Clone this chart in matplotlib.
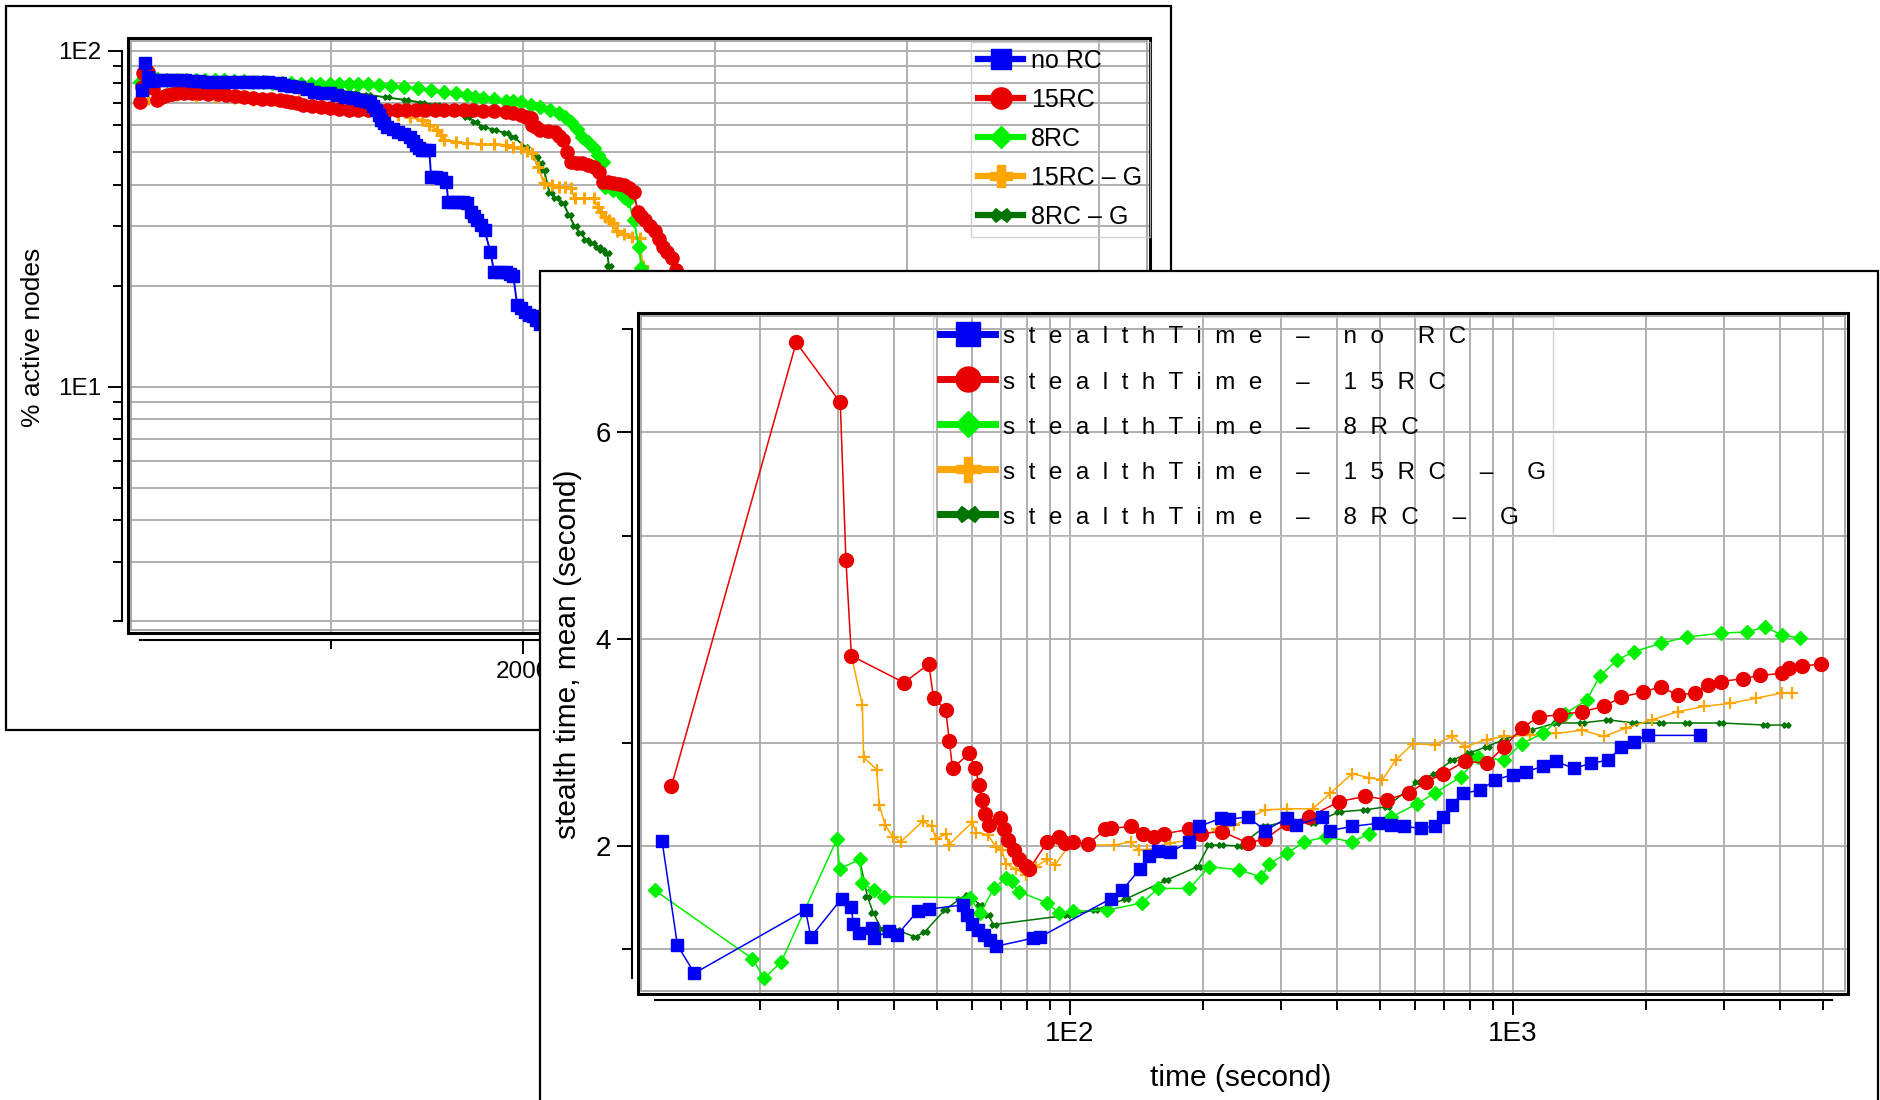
import matplotlib
matplotlib.use('Agg')
import matplotlib.pyplot as plt
from matplotlib.lines import Line2D
from matplotlib.patches import Rectangle
from matplotlib.path import Path
from matplotlib.ticker import NullFormatter

plt.rcParams['font.family'] = ['Liberation Sans', 'DejaVu Sans']

# ---------------- data: back panel (% active nodes vs time) ----------------
act_norc_t = [18, 34, 48, 67, 97, 130, 160, 197, 240, 280, 316, 356, 396, 436, 476, 516, 556, 595, 635,
              675, 735, 755, 795, 834, 874, 914, 954, 994, 1034, 1073, 1113, 1153, 1183, 1203, 1218, 1233,
              1248, 1263, 1278, 1292, 1322, 1352, 1382, 1412, 1427, 1442, 1457, 1472, 1492, 1512, 1522,
              1546, 1571, 1601, 1611, 1636, 1661, 1686, 1711, 1731, 1746, 1761, 1780, 1800, 1830, 1850,
              1880, 1910, 1930, 1950, 1970, 1990, 2010, 2030, 2050, 2070, 2089, 2120, 2149]
act_norc_v = [76.5, 91.9, 83.8, 81.5, 81.9, 81.9, 81.9, 81.9, 81.8, 81.6, 81.6, 81.0, 81.0, 81.0, 81.0,
              81.0, 81.0, 81.0, 80.8, 80.6, 80.5, 79.2, 78.8, 78.3, 77.0, 75.7, 75.2, 74.8, 74.0, 73.1,
              72.3, 71.4, 71.0, 70.6, 68.5, 66.7, 64.5, 62.3, 60.9, 59.5, 58.5, 57.5, 56.5, 55.6, 54.0,
              52.5, 51.5, 50.7, 50.7, 50.7, 42.2, 42.0, 41.7, 40.8, 35.6, 35.6, 35.6, 35.4, 35.2, 33.2,
              32.3, 31.4, 30.3, 29.3, 25.2, 22.0, 22.0, 22.0, 21.6, 21.3, 17.5, 17.1, 16.7, 16.4, 16.2,
              15.8, 15.4, 15.1, 14.8]

act_15rc_t = [8, 15, 22, 35, 48, 60, 74, 97, 122, 147, 172, 197, 237, 277, 316, 363, 410, 456, 503, 549,
              595, 642, 688, 735, 765, 795, 825, 854, 901, 947, 994, 1044, 1094, 1143, 1193, 1243, 1293,
              1342, 1392, 1442, 1492, 1541, 1591, 1641, 1691, 1740, 1790, 1850, 1910, 1950, 1990, 2015,
              2040, 2049, 2069, 2089, 2129, 2169, 2189, 2209, 2229, 2249, 2279, 2308, 2338, 2368, 2398,
              2418, 2443, 2468, 2498, 2528, 2553, 2577, 2597, 2617, 2637, 2662, 2687, 2707, 2727, 2752,
              2777, 2797, 2826]
act_15rc_v = [70.6, 78.0, 85.8, 87.0, 86.7, 82.0, 77.4, 71.4, 73.0, 74.0, 74.5, 74.8, 74.8, 74.8, 74.8,
              74.5, 74.2, 74.0, 73.5, 72.8, 72.3, 72.0, 71.7, 71.4, 71.0, 70.6, 69.8, 69.0, 68.4, 68.0,
              67.5, 67.2, 66.9, 66.7, 66.7, 66.7, 66.7, 66.7, 66.7, 66.7, 66.7, 66.7, 66.7, 66.6, 66.5,
              66.5, 66.4, 66.1, 65.9, 65.2, 64.4, 63.7, 63.0, 60.2, 59.2, 58.2, 57.8, 57.5, 55.9, 54.3,
              50.1, 46.8, 46.5, 46.3, 45.7, 45.2, 43.7, 40.8, 40.6, 40.4, 40.1, 39.9, 39.0, 38.1, 33.2,
              32.3, 31.4, 30.2, 29.0, 27.5, 26.1, 25.1, 24.1, 22.3, 20.3]

act_8rc_t = [8, 30, 57, 97, 147, 197, 247, 297, 346, 396, 446, 496, 546, 595, 645, 695, 745, 795, 844,
             894, 944, 994, 1044, 1094, 1143, 1193, 1253, 1312, 1382, 1452, 1522, 1591, 1651, 1711, 1750,
             1790, 1850, 1910, 1950, 1990, 2040, 2089, 2139, 2189, 2219, 2249, 2279, 2308, 2338, 2368,
             2393, 2418, 2428, 2468, 2508, 2528, 2547, 2577, 2603, 2617, 2627]
act_8rc_v = [81.0, 83.0, 83.8, 82.5, 82.0, 81.9, 81.9, 81.9, 81.9, 81.9, 81.7, 81.5, 81.2, 81.0, 80.8,
             80.5, 80.3, 80.1, 79.9, 79.8, 79.7, 79.7, 79.7, 79.7, 79.7, 79.7, 79.2, 78.7, 78.0, 77.4,
             76.5, 75.7, 74.8, 74.0, 73.1, 72.3, 71.7, 71.1, 70.8, 70.6, 69.2, 67.9, 66.5, 65.2, 63.4,
             61.6, 58.5, 55.6, 53.4, 51.3, 49.0, 46.8, 39.4, 38.5, 37.7, 36.8, 36.0, 31.4, 26.1, 22.5,
             20.3]

act_15rcg_t = [8, 50, 100, 150, 197, 297, 396, 496, 595, 715, 834, 894, 954, 1034, 1113, 1193, 1272, 1352,
               1412, 1472, 1511, 1551, 1571, 1591, 1651, 1711, 1780, 1850, 1910, 1950, 1990, 2020, 2049,
               2079, 2109, 2149, 2189, 2219, 2249, 2269, 2318, 2368, 2388, 2408, 2428, 2448, 2468, 2488,
               2528, 2567, 2607, 2623, 2631]
act_15rcg_v = [70.6, 72.0, 73.0, 73.5, 74.0, 73.5, 73.1, 72.2, 71.4, 71.4, 71.4, 70.6, 69.9, 68.5, 67.5,
               66.7, 65.6, 64.5, 63.4, 62.3, 60.2, 58.2, 56.2, 54.3, 53.7, 53.1, 52.8, 52.7, 52.5, 51.9,
               51.3, 50.4, 49.6, 45.2, 40.4, 39.9, 39.4, 39.2, 39.0, 36.4, 36.4, 36.4, 34.4, 33.2, 32.1,
               31.4, 30.7, 29.0, 28.5, 28.0, 27.7, 22.8, 20.3]

act_8rcg_t = [8, 100, 200, 300, 396, 496, 595, 695, 795, 914, 1034, 1113, 1193, 1292, 1392, 1472, 1552,
              1631, 1711, 1750, 1790, 1850, 1910, 1950, 2010, 2069, 2089, 2109, 2139, 2174, 2209, 2239,
              2269, 2298, 2328, 2358, 2388, 2413, 2438, 2448, 2458]
act_8rcg_v = [80.1, 81.0, 81.5, 81.9, 81.9, 81.5, 81.0, 80.6, 80.1, 78.3, 76.5, 75.2, 74.0, 72.7, 71.4,
              70.2, 69.0, 66.3, 63.7, 61.5, 59.5, 58.2, 56.9, 55.6, 51.9, 48.4, 46.3, 44.2, 37.7, 36.4,
              35.2, 32.5, 30.0, 28.7, 27.4, 26.7, 26.1, 25.5, 25.0, 22.8, 20.3]

# ---------------- data: front panel (stealth time mean vs time) ----------------
st_norc_t = [12.0, 13.0, 14.2, 25.3, 26.0, 30.5, 32.1, 32.4, 33.4, 35.8, 36.1, 39.1, 40.7, 45.3, 48.0,
             57.2, 58.4, 60.2, 62.0, 63.9, 65.9, 68.0, 82.7, 85.6, 123.5, 131, 144, 151, 158, 168, 186,
             196, 219, 228, 252, 276, 309, 323, 370, 387, 433, 496, 531, 568, 621, 665, 696, 728, 771,
             843, 912, 998, 1069, 1169, 1251, 1370, 1499, 1640, 1756, 1878, 2012, 2636]
st_norc_v = [2.05, 1.04, 0.77, 1.38, 1.12, 1.49, 1.41, 1.25, 1.16, 1.21, 1.11, 1.18, 1.14, 1.37, 1.39,
             1.43, 1.33, 1.25, 1.19, 1.14, 1.09, 1.03, 1.11, 1.12, 1.49, 1.57, 1.78, 1.90, 1.95, 1.94,
             2.04, 2.19, 2.27, 2.26, 2.28, 2.15, 2.27, 2.20, 2.28, 2.15, 2.19, 2.22, 2.20, 2.19, 2.17,
             2.19, 2.28, 2.40, 2.51, 2.54, 2.64, 2.69, 2.72, 2.77, 2.82, 2.75, 2.80, 2.83, 2.96, 3.01,
             3.07, 3.07]

st_15rc_t = [12.6, 24.1, 30.3, 31.2, 32.1, 42.2, 48.0, 49.2, 52.4, 53.4, 54.3, 59.3, 61.1, 62.4, 63.3,
             64.4, 65.6, 69.4, 70.9, 72.3, 74.6, 76.9, 79.4, 81.0, 88.9, 94.5, 97.5, 101.5, 110, 120,
             124, 137, 146, 155, 163, 186, 198, 220, 252, 276, 309, 346, 405, 463, 519, 581, 636, 696,
             779, 872, 955, 1045, 1143, 1279, 1432, 1603, 1756, 1966, 2153, 2355, 2577, 2757, 2951,
             3302, 3614, 4046, 4188, 4479, 4961]
st_15rc_v = [2.58, 6.87, 6.29, 4.77, 3.84, 3.58, 3.76, 3.43, 3.32, 3.02, 2.75, 2.90, 2.75, 2.59, 2.45,
             2.31, 2.20, 2.27, 2.16, 2.06, 1.96, 1.87, 1.81, 1.78, 2.04, 2.09, 2.03, 2.04, 2.02, 2.16,
             2.17, 2.19, 2.12, 2.09, 2.12, 2.16, 2.12, 2.14, 2.03, 2.07, 2.22, 2.28, 2.43, 2.48, 2.45,
             2.51, 2.62, 2.70, 2.82, 2.80, 2.96, 3.14, 3.25, 3.27, 3.30, 3.35, 3.44, 3.49, 3.54, 3.46,
             3.48, 3.56, 3.59, 3.62, 3.65, 3.67, 3.72, 3.74, 3.76]

st_8rc_t = [11.57, 19.2, 20.4, 22.3, 29.8, 30.2, 33.5, 34.0, 36.1, 38.0, 59.5, 62.7, 67.3, 71.6, 73.8,
            76.6, 88.8, 94.5, 101.6, 121, 145.5, 158, 186, 206, 241, 270, 282, 309, 338, 378, 433, 474,
            531, 608, 665, 762, 834, 955, 1045, 1169, 1309, 1466, 1569, 1718, 1877, 2153, 2464, 2951,
            3381, 3700, 4046, 4450]
st_8rc_v = [1.57, 0.91, 0.72, 0.88, 2.07, 1.78, 1.87, 1.64, 1.57, 1.51, 1.50, 1.35, 1.59, 1.69, 1.66,
            1.56, 1.45, 1.35, 1.37, 1.38, 1.45, 1.59, 1.59, 1.80, 1.77, 1.70, 1.83, 1.93, 2.04, 2.09,
            2.04, 2.12, 2.28, 2.41, 2.51, 2.67, 2.86, 2.83, 2.99, 3.09, 3.28, 3.41, 3.64, 3.80, 3.88,
            3.96, 4.02, 4.06, 4.07, 4.12, 4.04, 4.01]

st_15rcg_t = [32.1, 34.0, 34.2, 36.6, 37.1, 38.3, 39.8, 41.5, 46.5, 48.8, 49.8, 52.6, 53.2, 60.2, 61.4,
              65.3, 68.0, 70.2, 71.6, 75.4, 79.4, 83.6, 88.9, 92.6, 100.5, 111, 126, 137, 143, 149, 168,
              190, 215, 235, 276, 309, 353, 387, 433, 474, 507, 543, 594, 665, 728, 779, 872, 955, 1094,
              1251, 1432, 1603, 1797, 2056, 2355, 2697, 3090, 3536, 4046, 4266]
st_15rcg_v = [3.84, 3.36, 2.86, 2.74, 2.40, 2.20, 2.09, 2.04, 2.24, 2.19, 2.07, 2.12, 2.01, 2.23, 2.13,
              2.11, 1.99, 1.96, 1.83, 1.78, 1.72, 1.80, 1.87, 1.82, 2.03, 2.01, 2.01, 2.04, 1.96, 1.96,
              2.03, 2.06, 2.16, 2.20, 2.35, 2.36, 2.36, 2.51, 2.70, 2.66, 2.64, 2.83, 2.99, 2.98, 3.06,
              2.96, 3.03, 3.06, 3.07, 3.09, 3.12, 3.06, 3.14, 3.22, 3.30, 3.35, 3.38, 3.43, 3.48, 3.48]

st_8rcg_t = [33.5, 34.9, 36.0, 37.5, 40.7, 44.7, 47.0, 52.1, 56.5, 58.9, 62.7, 65.3, 67.3, 98.5, 113.7,
             134, 165, 194, 206, 219, 241, 276, 309, 353, 405, 463, 519, 608, 665, 728, 797, 872, 955,
             1094, 1251, 1432, 1640, 1878, 2153, 2464, 2951, 3700, 4140]
st_8rcg_v = [1.87, 1.51, 1.35, 1.20, 1.19, 1.12, 1.17, 1.38, 1.49, 1.53, 1.43, 1.33, 1.24, 1.33, 1.38,
             1.49, 1.67, 1.80, 2.01, 2.01, 2.00, 2.19, 2.24, 2.22, 2.33, 2.35, 2.38, 2.62, 2.70, 2.83,
             2.90, 2.96, 3.03, 3.12, 3.19, 3.19, 3.22, 3.19, 3.19, 3.19, 3.19, 3.17, 3.17]

series_names = ['no RC', '15RC', '8RC', '15RC – G', '8RC – G']
p1_y_major = [10, 100]
p1_y_major_labels = ['1E1', '1E2']
p1_y_minor = [2, 3, 4, 5, 6, 7, 8, 9, 20, 30, 40, 50, 60, 70, 80, 90]
p1_x_major = [2000, 4000]
p1_x_major_labels = ['2000', '4000']
p1_x_minor = [1000, 3000, 5000]
p2_x_major = [100, 1000]
p2_x_major_labels = ['1E2', '1E3']
p2_x_minor = [20, 30, 40, 50, 60, 70, 80, 90, 200, 300, 400, 500, 600, 700, 800, 900,
              2000, 3000, 4000, 5000]
p2_y_major = [2, 4, 6]
p2_y_minor = [1, 3, 5, 7]

# ---------------- styles ----------------
C_BLUE = '#0000f2'
C_RED = '#e80000'
C_GREEN = '#00f000'
C_ORANGE = '#ffa500'
C_DKGREEN = '#007400'
GRID = '#b0b0b0'
bowtie = Path([(-1, 0), (-0.5, 0.6), (0, 0.22), (0.5, 0.6), (1, 0), (0.5, -0.6), (0, -0.22),
               (-0.5, -0.6), (-1, 0)], closed=True)

W, H = 1881, 1100
fig = plt.figure(figsize=(W / 100, H / 100), dpi=100)


def frect(l, t, r, b):
    return [l / W, 1 - b / H, (r - l) / W, (b - t) / H]


def add_box(l, t, r, b, z):
    fig.add_artist(Rectangle((l / W, 1 - b / H), (r - l) / W, (b - t) / H, transform=fig.transFigure,
                             facecolor='white', edgecolor='black', lw=1.6, zorder=z, clip_on=False))


def frame(ax, wpx, hpx):
    ax.add_patch(Rectangle((0, 0), 1, 1, transform=ax.transAxes, fill=False, ec='black', lw=2.2,
                           clip_on=False, zorder=5))
    dx, dy = 3.0 / wpx, 3.0 / hpx
    ax.add_patch(Rectangle((dx, dy), 1 - 2 * dx, 1 - 2 * dy, transform=ax.transAxes, fill=False,
                           ec='#9a9a9a', lw=1.2, clip_on=False, zorder=5))
    for s in ax.spines.values():
        s.set_linewidth(1.5)
    ax.spines['top'].set_visible(False)
    ax.spines['right'].set_visible(False)


# ---------------- back panel ----------------
add_box(6, 6, 1171, 730, 0.5)
ax1 = fig.add_axes(frect(128, 38, 1150, 633))
ax1.set_zorder(1)
ax1.set_yscale('log')
ax1.set_xlim(-56, 5264)
ax1.set_ylim(1.845, 109.3)
frame(ax1, 1022, 595)
ax1.spines['left'].set_position(('outward', 4.3))
ax1.spines['bottom'].set_position(('outward', 5))
ax1.spines['left'].set_bounds(2, 100)
ax1.spines['bottom'].set_bounds(8, 5264)
ax1.set_yticks(p1_y_major, labels=p1_y_major_labels)
ax1.set_yticks(p1_y_minor, minor=True)
ax1.yaxis.set_minor_formatter(NullFormatter())
ax1.set_xticks(p1_x_major, labels=p1_x_major_labels)
ax1.set_xticks(p1_x_minor, minor=True)
ax1.set_axisbelow(True)
ax1.grid(True, which='both', color=GRID, lw=1.4)
ax1.tick_params(which='major', length=10, width=1.4, labelsize=17.5, pad=5, color='black')
ax1.tick_params(which='minor', length=6.5, width=1.4)
ax1.set_ylabel('% active nodes', fontsize=19)
ax1.yaxis.label.set_va('center')
ax1.yaxis.set_label_coords(-0.093, 0.4975)

ax1.plot(act_8rcg_t, act_8rcg_v, color=C_DKGREEN, lw=1.4, marker=bowtie, ms=6.5, mec=C_DKGREEN, mfc=C_DKGREEN)
ax1.plot(act_15rcg_t, act_15rcg_v, color=C_ORANGE, lw=1.4, marker='+', ms=8.5, mew=2.2)
ax1.plot(act_8rc_t, act_8rc_v, color=C_GREEN, lw=1.4, marker='D', ms=7, mec=C_GREEN, mfc=C_GREEN)
ax1.plot(act_15rc_t, act_15rc_v, color=C_RED, lw=1.4, marker='o', ms=9.5, mec=C_RED, mfc=C_RED)
ax1.plot(act_norc_t, act_norc_v, color=C_BLUE, lw=1.4, marker='s', ms=8.5, mec=C_BLUE, mfc=C_BLUE)


def handles(ms_scale, lw):
    return [
        Line2D([], [], color=C_BLUE, lw=lw, marker='s', ms=17 * ms_scale, mec=C_BLUE, mfc=C_BLUE),
        Line2D([], [], color=C_RED, lw=lw, marker='o', ms=18 * ms_scale, mec=C_RED, mfc=C_RED),
        Line2D([], [], color=C_GREEN, lw=lw, marker='D', ms=13 * ms_scale, mec=C_GREEN, mfc=C_GREEN),
        Line2D([], [], color=C_ORANGE, lw=lw, marker='P', ms=18 * ms_scale, mec=C_ORANGE, mfc=C_ORANGE),
        Line2D([], [], color=C_DKGREEN, lw=lw, marker=bowtie, ms=19 * ms_scale, mec=C_DKGREEN, mfc=C_DKGREEN),
    ]


leg1 = ax1.legend(handles(0.85, 4.5), series_names, loc='upper left',
                  bbox_to_anchor=(971 / W, 1 - 41.5 / H), bbox_transform=fig.transFigure,
                  borderaxespad=0, fancybox=False, edgecolor='#c8c8c8', facecolor='none',
                  fontsize=18, handlelength=1.8, handleheight=0.9, handletextpad=0.3,
                  labelspacing=0.6, borderpad=0.3)
leg1.get_frame().set_linewidth(1.0)

# ---------------- front panel ----------------
add_box(540, 271, 1878, 1110, 2)
ax2 = fig.add_axes(frect(638, 313, 1848, 994))
ax2.set_zorder(3)
ax2.set_xscale('log')
ax2.set_xlim(10.59, 5702)
ax2.set_ylim(0.569, 7.155)
frame(ax2, 1210, 681)
ax2.spines['left'].set_position(('outward', 4.3))
ax2.spines['bottom'].set_position(('outward', 4.3))
ax2.spines['left'].set_bounds(0.72, 7)
ax2.spines['bottom'].set_bounds(11.57, 5250)
ax2.set_xticks(p2_x_major, labels=p2_x_major_labels)
ax2.set_xticks(p2_x_minor, minor=True)
ax2.xaxis.set_minor_formatter(NullFormatter())
ax2.set_yticks(p2_y_major, labels=[str(v) for v in p2_y_major])
ax2.set_yticks(p2_y_minor, minor=True)
ax2.set_axisbelow(True)
ax2.grid(True, which='both', color=GRID, lw=1.4)
ax2.tick_params(which='major', length=11, width=1.4, labelsize=20, pad=4)
ax2.tick_params(which='minor', length=7.5, width=1.4)
ax2.set_xlabel('time (second)', fontsize=21.5)
ax2.xaxis.label.set_va('center')
ax2.xaxis.set_label_coords(0.4983, -0.1233)
ax2.set_ylabel('stealth time, mean (second)', fontsize=21.5)
ax2.yaxis.label.set_va('center')
ax2.yaxis.set_label_coords(-0.0579, 0.4993)

ax2.plot(st_8rcg_t, st_8rcg_v, color=C_DKGREEN, lw=1.1, marker=bowtie, ms=6.5, mec=C_DKGREEN, mfc=C_DKGREEN)
ax2.plot(st_15rcg_t, st_15rcg_v, color=C_ORANGE, lw=1.1, marker='+', ms=9, mew=1.6)
ax2.plot(st_8rc_t, st_8rc_v, color=C_GREEN, lw=1.1, marker='D', ms=7, mec=C_GREEN, mfc=C_GREEN)
ax2.plot(st_15rc_t, st_15rc_v, color=C_RED, lw=1.1, marker='o', ms=10, mec=C_RED, mfc=C_RED)
ax2.plot(st_norc_t, st_norc_v, color=C_BLUE, lw=1.1, marker='s', ms=8, mec=C_BLUE, mfc=C_BLUE)

labels2 = ['  '.join('stealthTime – ' + n) for n in series_names]
leg2 = ax2.legend(handles(1.0, 5), labels2, loc='upper left',
                  bbox_to_anchor=(933 / W, 1 - 317 / H), bbox_transform=fig.transFigure,
                  borderaxespad=0, fancybox=False, edgecolor='#c8c8c8', facecolor='none',
                  fontsize=17.5, handlelength=2.25, handleheight=1.0, handletextpad=0.33,
                  labelspacing=0.86, borderpad=0.3)
leg2.get_frame().set_linewidth(1.0)

fig.savefig('out.png', dpi=100)
